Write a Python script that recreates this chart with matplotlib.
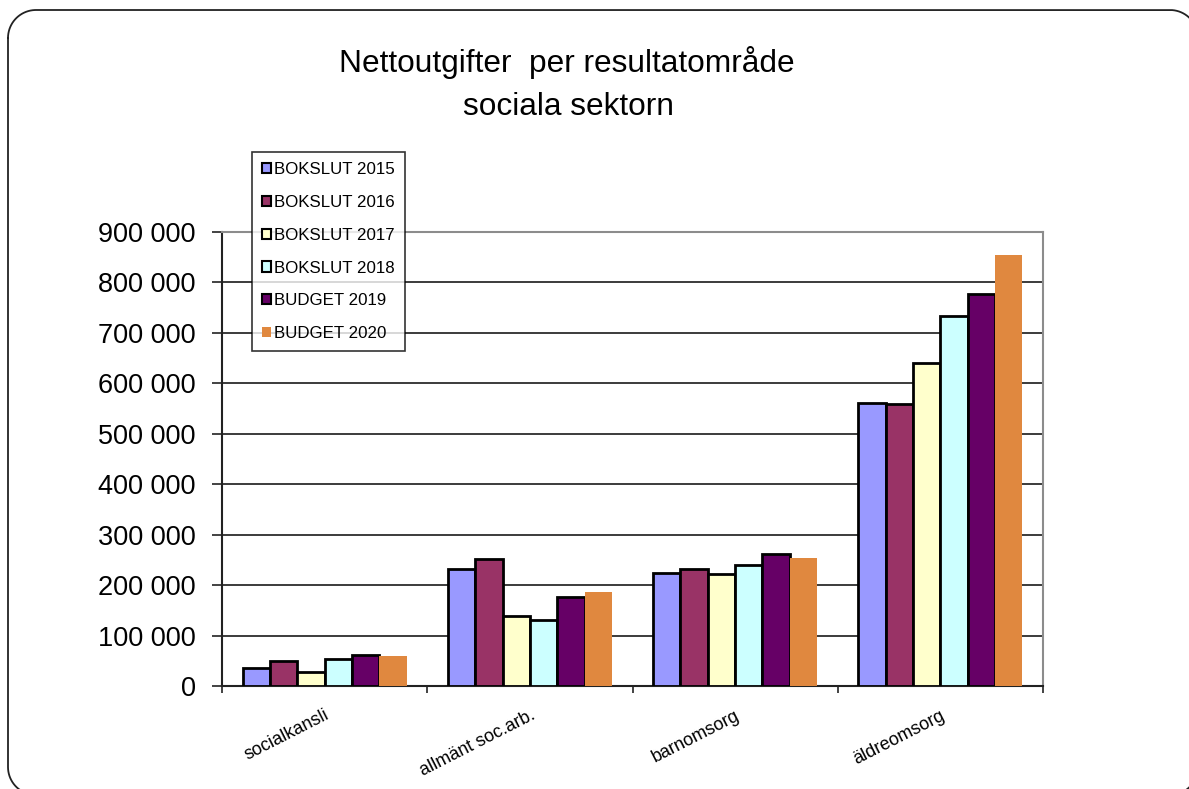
import matplotlib
matplotlib.use("Agg")
import matplotlib.pyplot as plt
import numpy as np
from matplotlib.ticker import FuncFormatter, FixedLocator
from matplotlib.lines import Line2D

plt.rcParams['font.family'] = ['Liberation Sans', 'DejaVu Sans']

categories = ["socialkansli", "allmänt soc.arb.", "barnomsorg", "äldreomsorg"]
series_names = ["BOKSLUT 2015", "BOKSLUT 2016", "BOKSLUT 2017", "BOKSLUT 2018", "BUDGET 2019", "BUDGET 2020"]
bokslut_2015 = [36000, 231000, 224000, 562000]
bokslut_2016 = [50000, 251000, 232000, 559000]
bokslut_2017 = [27000, 138000, 223000, 640000]
bokslut_2018 = [53000, 130000, 240000, 733000]
budget_2019 = [61000, 176000, 261000, 777000]
budget_2020 = [59000, 186000, 253000, 854000]
series_values = [bokslut_2015, bokslut_2016, bokslut_2017, bokslut_2018, budget_2019, budget_2020]
colors = ["#9999FF", "#993366", "#FFFFCC", "#CCFFFF", "#660066", "#E0883F"]
edges = ["black", "black", "black", "black", "black", "none"]
y_ticks = [0, 100000, 200000, 300000, 400000, 500000, 600000, 700000, 800000, 900000]

W, H = 1189, 789
fig = plt.figure(figsize=(W / 100, H / 100), dpi=100)
fig.patch.set_facecolor("white")

ax = fig.add_axes([222 / W, 1 - 686 / H, (1043 - 222) / W, (686 - 232) / H])

n = len(series_values)
bw = 1.0 / (n + 1.5)
x = np.arange(len(categories))
for i, (vals, c, e, name) in enumerate(zip(series_values, colors, edges, series_names)):
    off = (i - (n - 1) / 2) * bw
    ax.bar(x + off, vals, width=bw, color=c, edgecolor=e,
           linewidth=2.0 if e != "none" else 0, label=name, zorder=3)

ax.set_xlim(-0.5, len(categories) - 0.5)
ax.set_ylim(0, 900000)
ax.set_yticks(y_ticks)
ax.yaxis.set_major_formatter(FuncFormatter(lambda v, p: f"{int(v):,}".replace(",", " ")))
ax.tick_params(axis='y', labelsize=19.5, length=7, width=1.2, color='#222222', pad=12, direction='out')
ax.grid(axis='y', color='#1a1a1a', linewidth=1.2, zorder=0)
ax.set_axisbelow(True)

ax.xaxis.set_major_locator(FixedLocator(list(x)))
ax.xaxis.set_minor_locator(FixedLocator(list(np.arange(-0.5, len(categories), 1.0))))
ax.set_xticklabels(categories, rotation=27, ha='right', rotation_mode='anchor', fontsize=13)
ax.tick_params(axis='x', which='major', length=0, pad=15)
ax.tick_params(axis='x', which='minor', length=5, width=1.2, color='#222222', direction='out')

for s in ['left', 'bottom']:
    ax.spines[s].set_color('#222222')
    ax.spines[s].set_linewidth(1.5)
for s in ['top', 'right']:
    ax.spines[s].set_color('#8c8c8c')
    ax.spines[s].set_linewidth(1.5)

leg = fig.legend(loc='upper left', bbox_to_anchor=(252 / W, 1 - 152 / H),
                 fontsize=12.2, frameon=True, fancybox=False, shadow=False,
                 handlelength=0.55, handleheight=0.55, handletextpad=0.15,
                 labelspacing=1.05, borderpad=0.6, borderaxespad=0)
leg.get_frame().set_edgecolor('black')
leg.get_frame().set_linewidth(1.2)
for h in leg.legend_handles:
    if h.get_edgecolor()[3] > 0:
        h.set_linewidth(1.5)

fig.text(567 / W, 1 - 72 / H, "Nettoutgifter  per resultatområde", ha='center', va='baseline', fontsize=22.8)
fig.text(568 / W, 1 - 115 / H, "sociala sektorn", ha='center', va='baseline', fontsize=22.8)

# rounded slide frame (pixel geometry, top-left origin)
L, T, R, B, r = 8, 10, 1198, 795, 28
pts = []
for (cx, cy, a0, a1) in [(L + r, T + r, 180, 270), (R - r, T + r, 270, 360),
                         (R - r, B - r, 0, 90), (L + r, B - r, 90, 180)]:
    ang = np.radians(np.linspace(a0, a1, 40))
    pts += list(zip(cx + r * np.cos(ang), cy + r * np.sin(ang)))
pts.append(pts[0])
px = np.array([p[0] for p in pts]) / W
py = 1 - np.array([p[1] for p in pts]) / H
fig.add_artist(Line2D(px, py, transform=fig.transFigure, color='#222222', linewidth=1.3))

fig.savefig("out.png", dpi=100, facecolor="white")
